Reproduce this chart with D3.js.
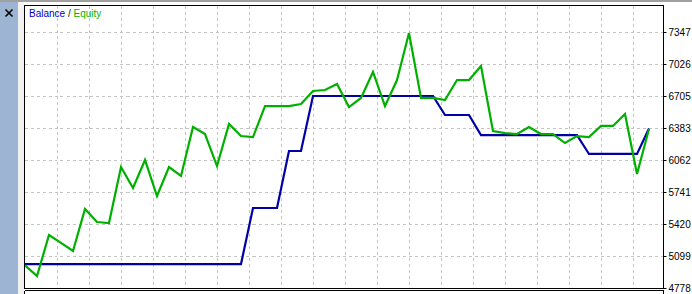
<!DOCTYPE html>
<html>
<head>
<meta charset="utf-8">
<script src="https://cdn.jsdelivr.net/npm/d3@7"></script>
<style>
html,body{margin:0;padding:0;background:#fff;}
svg{display:block;}
text{font-family:"Liberation Sans",Arial,sans-serif;}
</style>
</head>
<body>
<svg id="chart" width="692" height="294"></svg>
<script>
// ---- data ----
const tickLabels = [4778, 5099, 5420, 5741, 6062, 6383, 6705, 7026, 7347];
const equity = [5005, 4898, 5310, 5230, 5149, 5571, 5440, 5430, 5992, 5782,
  6063, 5701, 5992, 5902, 6394, 6323, 6002, 6424, 6303, 6293,
  6604, 6604, 6604, 6624, 6755, 6765, 6825, 6594, 6685, 6946,
  6604, 6865, 7337, 6685, 6685, 6665, 6865, 6865, 7006, 6353,
  6333, 6323, 6394, 6323, 6323, 6233, 6303, 6293, 6404, 6404,
  6524, 5922, 6374];
const balance = [5018, 5018, 5018, 5018, 5018, 5018, 5018, 5018, 5018, 5018,
  5018, 5018, 5018, 5018, 5018, 5018, 5018, 5018, 5018, 5581,
  5581, 5581, 6153, 6153, 6705, 6705, 6705, 6705, 6705, 6705,
  6705, 6705, 6705, 6705, 6705, 6514, 6514, 6514, 6313, 6313,
  6313, 6313, 6313, 6313, 6313, 6313, 6313, 6123, 6123, 6123,
  6123, 6123, 6378];
const titleParts = [["Balance", "#0000c8"], [" / ", "#202020"], ["Equity", "#00b400"]];

// ---- layout ----
const svg = d3.select("#chart");
const plot = {left: 24.5, right: 663.5, top: 5.5, bottom: 288.5};

const x = d3.scaleLinear().domain([0, equity.length - 1]).range([25, 649]);
const y = d3.scaleLinear().domain([4778, 7347]).range([288, 32]);

// frame background
svg.append("rect").attr("x", 0).attr("y", 0).attr("width", 692).attr("height", 294).attr("fill", "#ffffff");
svg.append("rect").attr("x", 0).attr("y", 0).attr("width", 692).attr("height", 2).attr("fill", "#a0a0a0");
svg.append("rect").attr("x", 18).attr("y", 2).attr("width", 6).attr("height", 292).attr("fill", "#f2f2f2");
svg.append("rect").attr("x", 0).attr("y", 2).attr("width", 18).attr("height", 292).attr("fill", "#9db5d3");
svg.append("path").attr("d", "M5.5,9.5L12.5,16.5M12.5,9.5L5.5,16.5")
  .attr("stroke", "#000").attr("stroke-width", 1.6).attr("fill", "none");

// grid
const g = svg.append("g");
const vGrid = d3.range(57, 650, 32);
g.selectAll("line.v").data(vGrid).join("line")
  .attr("x1", d => d + 0.5).attr("x2", d => d + 0.5)
  .attr("y1", plot.top).attr("y2", plot.bottom)
  .attr("stroke", "#c4c4c4").attr("stroke-dasharray", "3,3").attr("shape-rendering", "crispEdges");
g.selectAll("line.h").data(tickLabels.slice(1)).join("line")
  .attr("x1", plot.left).attr("x2", plot.right)
  .attr("y1", d => Math.round(y(d)) + 0.5).attr("y2", d => Math.round(y(d)) + 0.5)
  .attr("stroke", "#c4c4c4").attr("stroke-dasharray", "3,3").attr("shape-rendering", "crispEdges");

// lines
const line = d3.line().x((d, i) => x(i)).y(d => y(d));
svg.append("path").datum(balance).attr("d", line)
  .attr("fill", "none").attr("stroke", "#0000a4").attr("stroke-width", 2.2).attr("stroke-linejoin", "miter");
svg.append("path").datum(equity).attr("d", line)
  .attr("fill", "none").attr("stroke", "#00b000").attr("stroke-width", 2.2).attr("stroke-linejoin", "miter");

// cover right edge area so lines don't spill
// frame
svg.append("rect").attr("x", plot.left).attr("y", plot.top)
  .attr("width", plot.right - plot.left).attr("height", plot.bottom - plot.top)
  .attr("fill", "none").attr("stroke", "#000").attr("stroke-width", 1).attr("shape-rendering", "crispEdges");
// second panel top
svg.append("line").attr("x1", plot.left).attr("x2", plot.right).attr("y1", 290.5).attr("y2", 290.5)
  .attr("stroke", "#000").attr("shape-rendering", "crispEdges");
svg.append("line").attr("x1", plot.left).attr("x2", plot.left).attr("y1", 290.5).attr("y2", 294)
  .attr("stroke", "#000").attr("shape-rendering", "crispEdges");
svg.append("line").attr("x1", plot.right).attr("x2", plot.right).attr("y1", 290.5).attr("y2", 294)
  .attr("stroke", "#000").attr("shape-rendering", "crispEdges");

// right axis
const axis = d3.axisRight(y).tickValues(tickLabels).tickSize(3).tickPadding(2).tickFormat(d3.format("d"));
const ag = svg.append("g").attr("transform", `translate(${plot.right},0)`).call(axis);
ag.select(".domain").remove();
ag.selectAll(".tick line").attr("stroke", "#000");
ag.selectAll(".tick text").attr("fill", "#000").attr("font-size", "10px")
  .attr("font-family", "'Liberation Sans', Arial, sans-serif").attr("dy", "0.36em");
ag.selectAll(".tick").attr("transform", d => `translate(0,${Math.round(y(d)) + 0.5})`);

// title
const t = svg.append("text").attr("x", 29).attr("y", 17).attr("font-size", "10px");
t.selectAll("tspan").data(titleParts).join("tspan").text(d => d[0]).attr("fill", d => d[1])
  .attr("xml:space", "preserve");
</script>
</body>
</html>
